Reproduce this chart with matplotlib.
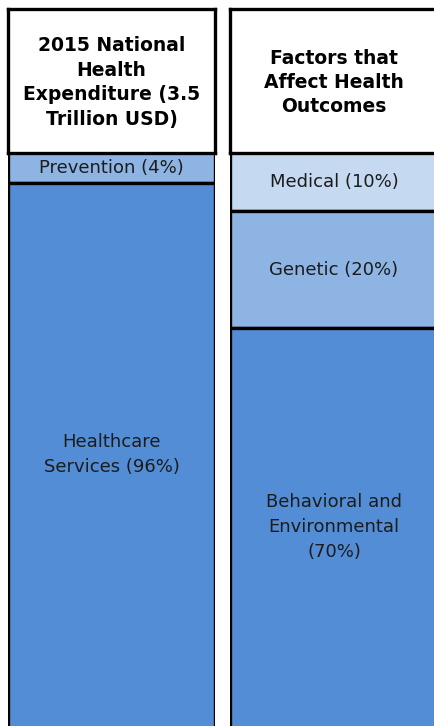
import matplotlib.pyplot as plt

# data
left_title = "2015 National\nHealth\nExpenditure (3.5\nTrillion USD)"
left_labels = ["Prevention (4%)", "Healthcare\nServices (96%)"]
left_values = [4, 96]
left_colors = ["#8DB4E2", "#538DD5"]

right_title = "Factors that\nAffect Health\nOutcomes"
right_labels = ["Medical (10%)", "Genetic (20%)", "Behavioral and\nEnvironmental\n(70%)"]
right_values = [10, 20, 70]
right_colors = ["#C5D9F1", "#8DB4E2", "#538DD5"]

W, H = 434, 726
fig = plt.figure(figsize=(W / 100, H / 100), dpi=100)
fig.patch.set_facecolor("white")

txt_color = "#1c1c1c"


def px_axes(x0, y0, x1, y1):
    # pixel box (top-left origin) -> figure axes
    return fig.add_axes([x0 / W, 1 - y1 / H, (x1 - x0) / W, (y1 - y0) / H])


def column(x0, x1, title, labels, values, colors, ymax):
    # header box
    hax = px_axes(x0, 9, x1, 153)
    hax.set_xticks([])
    hax.set_yticks([])
    for sp in hax.spines.values():
        sp.set_linewidth(2.4)
        sp.set_color("black")
    hax.text(0.5, 0.49, title, ha="center", va="center", fontsize=13.5,
             fontweight="bold", color="black", linespacing=1.36,
             transform=hax.transAxes)

    # stacked segments, cropped at the bottom of the picture
    ax = px_axes(x0, 153, x1, H)
    ax.set_xlim(-0.5, 0.5)
    ax.set_ylim(ymax, 0)
    ax.axis("off")
    bottom = 0
    for lab, val, col in zip(labels, values, colors):
        ax.bar(0, val, width=1.0, bottom=bottom, color=col,
               edgecolor="black", linewidth=2.4, clip_on=True)
        mid = (bottom + min(bottom + val, ymax)) / 2
        ax.text(0, mid, lab, ha="center", va="center", fontsize=13,
                color=txt_color, linespacing=1.5)
        bottom += val


column(8, 215, left_title, left_labels, left_values, left_colors, 76.4)
column(230, 438, right_title, right_labels, right_values, right_colors, 98.3)

fig.savefig("out.png", dpi=100)
